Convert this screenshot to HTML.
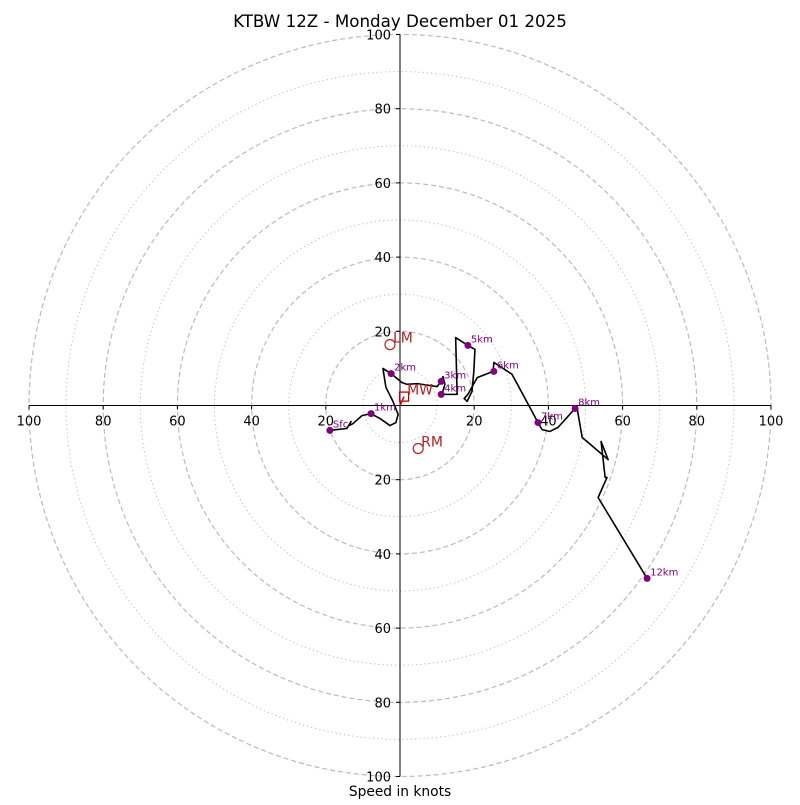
<!DOCTYPE html>
<html><head><meta charset="utf-8"><style>
body{margin:0;background:#fff}
svg text{font-family:"DejaVu Sans","Liberation Sans",sans-serif}
</style></head><body>
<svg id="chart" width="800" height="800" viewBox="0 0 800 800">
<rect width="800" height="800" fill="#fff"/>
<g id="rings"></g><g id="axes"></g><g id="trace"></g><g id="marks"></g>
<text x="400" y="27" text-anchor="middle" font-size="16.7">KTBW 12Z - Monday December 01 2025</text>
<text x="400" y="796" text-anchor="middle" font-size="13.8">Speed in knots</text>
</svg>
<script>
const uVals=[-18.9,-14.3,-13.2,-13.7,-12.7,-10.2,-7.8,-5.4,-2.7,-1.1,-0.5,-1.9,-3.8,-4.6,-2.4,0.5,1.9,4.6,10.0,11.1,11.6,12.1,11.3,15.4,15.0,18.3,20.2,19.9,19.4,18.1,17.3,18.3,20.8,25.1,25.3,30.2,35.0,37.2,38.3,40.4,42.6,47.2,47.7,49.1,53.9,56.1,54.2,55.3,55.8,53.4,66.6];
const vVals=[-6.7,-6.2,-4.3,-5.4,-4.9,-2.7,-2.2,-3.5,-5.4,-4.6,-2.4,1.1,4.9,10.0,8.6,6.2,5.7,5.9,5.1,6.5,7.8,5.7,3.0,3.0,18.3,16.2,15.1,9.2,3.8,1.1,1.9,3.0,7.5,9.2,11.6,8.4,-0.5,-4.6,-6.5,-7.0,-5.9,-0.8,-0.5,-8.6,-12.7,-14.6,-9.7,-19.4,-19.4,-24.8,-46.6];
const hLabels=["Sfc","1km","2km","3km","4km","5km","6km","7km","8km","12km"];
const hU=[-18.9,-7.8,-2.4,11.1,11.1,18.3,25.3,37.2,47.2,66.6];
const hV=[-6.7,-2.2,8.6,6.5,3.0,16.2,9.2,-4.6,-0.8,-46.6];
const tickVals=[20,40,60,80,100];
const motionNames=["LM","RM","MW"];
const motionU=[-2.7,4.9,1.1];
const motionV=[16.4,-11.6,2.4];
const CX=400,CY=405.5,S=3.71;
const X=u=>CX+u*S, Y=v=>CY-v*S;
const NS="http://www.w3.org/2000/svg";
function mk(tag,attrs,parent,txt){const e=document.createElementNS(NS,tag);for(const k in attrs)e.setAttribute(k,attrs[k]);if(txt!=null)e.textContent=txt;parent.appendChild(e);return e;}
const rings=document.getElementById('rings');
for(let r=10;r<=100;r+=10){
  const c=mk('circle',{cx:CX,cy:CY,r:r*S,fill:'none',stroke:'#bbb','stroke-width':r%20==0?1.2:1,'stroke-dasharray':r%20==0?'5,3':'1.2,3'},rings);
  
  
}
const ax=document.getElementById('axes');
const hl=mk('line',{x1:X(-100),x2:X(100),y1:CY,y2:CY,stroke:'#000','stroke-width':1},ax);

const vl=mk('line',{x1:CX,x2:CX,y1:Y(100),y2:Y(-100),stroke:'#000','stroke-width':1},ax);

tickVals.forEach(t=>{
  [1,-1].forEach(s=>{
    mk('line',{x1:X(s*t),x2:X(s*t),y1:CY,y2:CY+4,stroke:'#000'},ax);
    const a=mk('text',{x:X(s*t),y:CY+20,'text-anchor':'middle','font-size':13},ax,t);
    
    mk('line',{x1:CX-4,x2:CX,y1:Y(s*t),y2:Y(s*t),stroke:'#000'},ax);
    const b=mk('text',{x:CX-9,y:Y(s*t)+5,'text-anchor':'end','font-size':13},ax,t);
    
  });
});
const tr=document.getElementById('trace');
const pl=mk('polyline',{points:uVals.map((u,i)=>X(u)+','+Y(vVals[i])).join(' '),fill:'none',stroke:'#000','stroke-width':1.6,'stroke-linejoin':'round'},tr);

const mg=document.getElementById('marks');
hLabels.forEach((l,i)=>{
  const c=mk('circle',{cx:X(hU[i]),cy:Y(hV[i]),r:3.5,fill:'#800080'},mg);
  
  const t=mk('text',{x:X(hU[i])+3,y:Y(hV[i])-3,'font-size':10,fill:'#800080'},mg,l);
  
});
motionNames.forEach((n,i)=>{
  const x=X(motionU[i]),y=Y(motionV[i]);
  let m;
  if(n==='MW') m=mk('rect',{x:x-4.5,y:y-4.5,width:9,height:9,fill:'none',stroke:'#c00000','stroke-width':1.3},mg);
  else m=mk('circle',{cx:x,cy:y,r:5,fill:'none',stroke:'#b22222','stroke-width':1.2},mg);
  
  const t=mk('text',{x:x+3,y:y-2,'font-size':14,fill:'#b22222'},mg,n);
  
});
const ar=mk('line',{x1:CX,y1:CY,x2:X(motionU[2]),y2:Y(motionV[2]),stroke:'#e00','stroke-width':1.5},mg);

</script>
</body></html>
